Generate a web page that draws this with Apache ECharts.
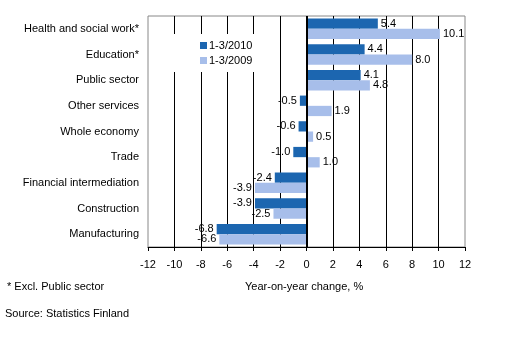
<!DOCTYPE html>
<html><head><meta charset="utf-8">
<script src="https://cdn.jsdelivr.net/npm/echarts@6/dist/echarts.min.js"></script>
<style>html,body{margin:0;padding:0;background:#fff}#c{width:524px;height:344px}</style>
</head><body><div id="c"></div>
<script>
var categories = ['Health and social work*','Education*','Public sector','Other services','Whole economy','Trade','Financial intermediation','Construction','Manufacturing'];
var s2010 = [5.4, 4.4, 4.1, -0.5, -0.6, -1.0, -2.4, -3.9, -6.8];
var s2009 = [10.1, 8.0, 4.8, 1.9, 0.5, 1.0, -3.9, -2.5, -6.6];
var seriesNames = ['1-3/2010','1-3/2009'];
var xTicks = [-12,-10,-8,-6,-4,-2,0,2,4,6,8,10,12];

var FONT = '"Liberation Sans", Arial, sans-serif';
function mk(vals){
  return vals.map(function(v){ return {value:v, label:{position: v<0?'left':'right'}}; });
}
var chart = echarts.init(document.getElementById('c'));
chart.setOption({
  animation:false,
  textStyle:{fontFamily:FONT},
  grid:{left:148, top:16, right:59, bottom:97, show:true, borderColor:'#888', borderWidth:1, backgroundColor:'transparent'},
  legend:{
    orient:'vertical', left:170, top:34, padding:[6,4,6,30], backgroundColor:'#fff',
    itemWidth:7, itemHeight:7, itemGap:4, icon:'rect',
    textStyle:{fontFamily:FONT, fontSize:11, color:'#000', padding:[0,0,0,-3]},
    data:seriesNames
  },
  xAxis:{
    type:'value', min:xTicks[0], max:xTicks[xTicks.length-1], interval:2,
    axisLine:{show:true, lineStyle:{color:'#000', width:1}},
    axisTick:{show:true, length:4, lineStyle:{color:'#000'}},
    axisLabel:{fontFamily:FONT, fontSize:11, color:'#000', margin:12},
    splitLine:{show:true, showMinLine:false, showMaxLine:false, lineStyle:{color:'#000', width:1}}
  },
  yAxis:{
    type:'category', data:categories, inverse:true,
    axisLine:{show:false}, axisTick:{show:false},
    axisLabel:{fontFamily:FONT, fontSize:11, color:'#000', margin:9},
    splitLine:{show:false}
  },
  title:[
    {text:'* Excl. Public sector', left:2, top:276, textStyle:{fontFamily:FONT, fontSize:11, fontWeight:'normal', color:'#000'}},
    {text:'Year-on-year change, %', left:240, top:276, textStyle:{fontFamily:FONT, fontSize:11, fontWeight:'normal', color:'#000'}},
    {text:'Source: Statistics Finland', left:0, top:303, textStyle:{fontFamily:FONT, fontSize:11, fontWeight:'normal', color:'#000'}}
  ],
  series:[
    {name:seriesNames[0], type:'bar', data:mk(s2010), barGap:'0%', barCategoryGap:'20%',
     itemStyle:{color:'#1C66B0'},
     label:{show:true, distance:3, fontFamily:FONT, fontSize:11, color:'#000', formatter:function(p){return p.value.toFixed(1);}},
     markLine:{silent:true, symbol:'none', label:{show:false}, lineStyle:{color:'#000', width:2, type:'solid'}, data:[{xAxis:0}]}
    },
    {name:seriesNames[1], type:'bar', data:mk(s2009), barGap:'0%', barCategoryGap:'20%',
     itemStyle:{color:'#A7BEEA'},
     label:{show:true, distance:3, fontFamily:FONT, fontSize:11, color:'#000', formatter:function(p){return p.value.toFixed(1);}}
    }
  ]
});
</script></body></html>
